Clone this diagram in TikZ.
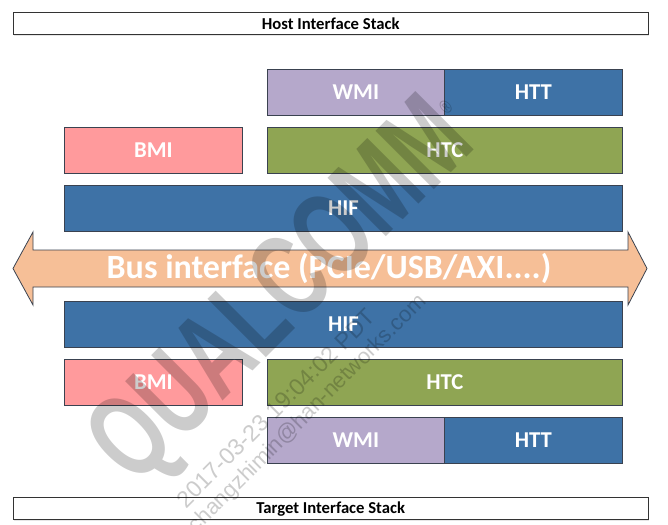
\documentclass[tikz,border=0pt]{standalone}
\usepackage{fontspec}
\setmainfont{Carlito}
\newfontfamily\markfont{Liberation Sans}
\usetikzlibrary{shadows}
\definecolor{hifblue}{HTML}{3E72A6}
\definecolor{wmipurple}{HTML}{B5A8CB}
\definecolor{bmipink}{HTML}{FF9A9C}
\definecolor{htcgreen}{HTML}{8FA553}
\definecolor{busorange}{HTML}{F6BF97}
\definecolor{edgedark}{HTML}{3A4250}
\tikzset{
  layerbox/.style={draw=edgedark, line width=0.6pt, anchor=north west, inner sep=0pt,
    text=white, font=\fontsize{17}{17}\selectfont\bfseries,
    drop shadow={opacity=0.2, shadow xshift=0.8pt, shadow yshift=-0.8pt}},
  stackbox/.style={draw=black!80, line width=0.6pt, fill=white, anchor=north west, inner sep=0pt,
    font=\fontsize{12.5}{12.5}\selectfont\bfseries, minimum width=476pt, minimum height=16.75pt,
    drop shadow={opacity=0.2, shadow xshift=0.8pt, shadow yshift=-0.8pt}},
  markstyle/.style={text=black, opacity=0.2, rotate=45, inner sep=0pt}
}
\begin{document}
\begin{tikzpicture}[x=0.75pt,y=-0.75pt]
\useasboundingbox (0,0) rectangle (668,525);
% Stack titles
\node[stackbox] (hoststack) at (13,12) {Host Interface Stack};
\node[stackbox] (targetstack) at (13,497) {Target Interface Stack};
% Host side
\node[layerbox, fill=wmipurple, minimum width=132.75pt, minimum height=34.5pt] (hostwmi) at (267,69) {WMI};
\node[layerbox, fill=hifblue, minimum width=133.5pt, minimum height=34.5pt] (hosthtt) at (444,69) {HTT};
\node[layerbox, fill=bmipink, minimum width=133.5pt, minimum height=34.5pt] (hostbmi) at (64,127) {BMI};
\node[layerbox, fill=htcgreen, minimum width=266.25pt, minimum height=34.5pt] (hosthtc) at (267,127) {HTC};
\node[layerbox, fill=hifblue, minimum width=418.5pt, minimum height=34.5pt] (hosthif) at (64,185) {HIF};
% Bus arrow
\draw[edgedark, line width=0.6pt, fill=busorange]
  (13,268.5) -- (33,232) -- (33,250) -- (628,250) -- (628,232) -- (647,268.5)
  -- (628,305) -- (628,287) -- (33,287) -- (33,305) -- cycle;
\node[text=white, font=\fontsize{25.5}{25.5}\selectfont\bfseries, inner sep=0pt] (bus) at (329,268) {Bus interface (PCIe/USB/AXI....)};
% Target side
\node[layerbox, fill=hifblue, minimum width=418.5pt, minimum height=34.5pt] (targethif) at (64,301) {HIF};
\node[layerbox, fill=bmipink, minimum width=133.5pt, minimum height=34.5pt] (targetbmi) at (64,358.5) {BMI};
\node[layerbox, fill=htcgreen, minimum width=266.25pt, minimum height=34.5pt] (targethtc) at (267,358.5) {HTC};
\node[layerbox, fill=wmipurple, minimum width=132.75pt, minimum height=34.5pt] (targetwmi) at (267,416.5) {WMI};
\node[layerbox, fill=hifblue, minimum width=133.5pt, minimum height=34.5pt] (targethtt) at (444,416.5) {HTT};
% Watermark
\begin{scope}
\clip (0,0) rectangle (668,525);
\node[markstyle, font=\markfont\fontsize{72}{72}\selectfont\bfseries] (qualcomm) at (289,292) {\scalebox{0.84}[1.25]{QUALCOMM\raisebox{26pt}{\fontsize{12}{12}\selectfont\textregistered}}};
\node[markstyle, font=\markfont\fontsize{17.5}{17.5}\selectfont] (stamp) at (276,408) {2017-03-23 19:04:02 PDT};
\node[markstyle, font=\markfont\fontsize{16.5}{16.5}\selectfont] (user) at (308,414) {changzhimin@han-networks.com};
\end{scope}
\end{tikzpicture}
\end{document}
